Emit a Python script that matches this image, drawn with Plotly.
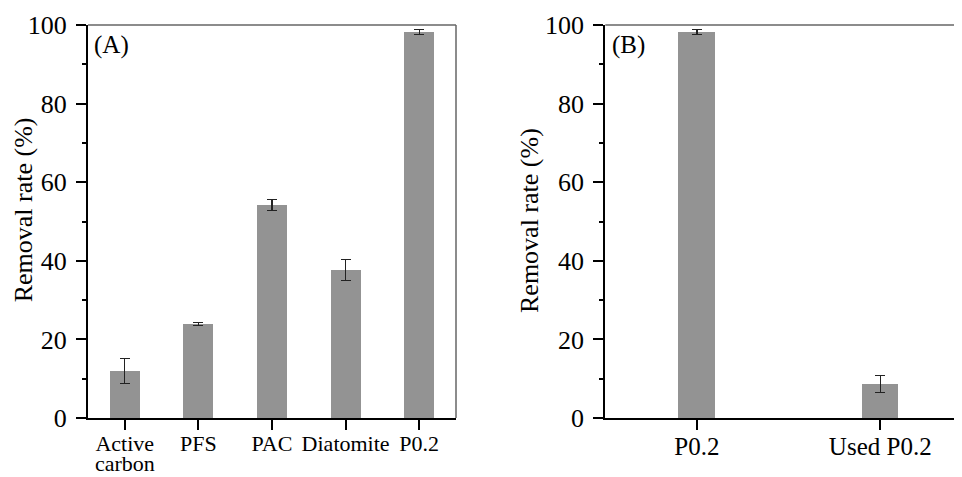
import plotly.graph_objects as go

# Data
cats_a = ["Active", "PFS", "PAC", "Diatomite", "P0.2"]
cat_a_second_line = "carbon"
vals_a = [12.0, 23.9, 54.2, 37.7, 98.2]
err_a = [3.2, 0.4, 1.3, 2.7, 0.6]

cats_b = ["P0.2", "Used P0.2"]
vals_b = [98.2, 8.6]
err_b = [0.6, 2.2]

y_ticks = [0, 20, 40, 60, 80, 100]
y_title = "Removal rate (%)"

FONT = "Liberation Serif, Times New Roman, serif"
BAR = "#939393"

# page body has an 8px margin, so the figure is offset by (8, 8)
OFF = 8
W, H = 962 - OFF, 477 - OFF


def px_x(p):
    return (p - OFF) / W


def px_y(p):
    return 1 - (p - OFF) / H


fig = go.Figure()
fig.add_trace(go.Bar(
    x=list(range(len(cats_a))), y=vals_a, width=0.41, marker=dict(color=BAR, line=dict(width=0)),
    error_y=dict(type="data", array=err_a, color="#222222", thickness=1.2, width=5),
    xaxis="x", yaxis="y", showlegend=False))
fig.add_trace(go.Bar(
    x=list(range(len(cats_b))), y=vals_b, width=0.2, marker=dict(color=BAR, line=dict(width=0)),
    error_y=dict(type="data", array=err_b, color="#222222", thickness=1.2, width=5),
    xaxis="x2", yaxis="y2", showlegend=False))

ydom = [px_y(418), px_y(25)]
yax = dict(range=[0, 100], tickvals=y_ticks, ticks="outside", ticklen=10, tickwidth=2,
           tickcolor="black", showline=True, linecolor="black", linewidth=2,
           showgrid=False, zeroline=False, automargin=False, domain=ydom,
           ticklabelstandoff=4,
           minor=dict(dtick=10, ticks="outside", ticklen=4, tickwidth=2, tickcolor="black"),
           tickfont=dict(family=FONT, size=26, color="black"))

xa = dict(range=[-0.5, 4.5], tickvals=list(range(len(cats_a))), ticktext=cats_a,
          ticks="outside", ticklen=10, tickwidth=2, tickcolor="black", automargin=False,
          showline=True, linecolor="black", linewidth=2, showgrid=False, zeroline=False,
          ticklabelstandoff=-5,
          tickfont=dict(family=FONT, size=22, color="black"), domain=[px_x(88), px_x(456)], anchor="y")
xb = dict(range=[-0.5, 1.446], tickvals=list(range(len(cats_b))), ticktext=cats_b,
          ticks="outside", ticklen=10, tickwidth=2, tickcolor="black", automargin=False,
          showline=True, linecolor="black", linewidth=2, showgrid=False, zeroline=False,
          ticklabelstandoff=-5,
          tickfont=dict(family=FONT, size=25, color="black"), domain=[px_x(605.3), 1.0], anchor="y2")

fig.update_layout(
    width=W, height=H, margin=dict(l=0, r=0, t=0, b=0, autoexpand=False),
    paper_bgcolor="white", plot_bgcolor="white",
    xaxis=xa, xaxis2=xb,
    yaxis=dict(yax, anchor="x"),
    yaxis2=dict(yax, anchor="x2"),
    bargap=0,
    shapes=[
        dict(type="line", xref="x domain", yref="y domain", x0=0, x1=1, y0=1, y1=1,
             line=dict(color="#666666", width=1.5)),
        dict(type="line", xref="x domain", yref="y domain", x0=1, x1=1, y0=0, y1=1,
             line=dict(color="#666666", width=1.5)),
        dict(type="line", xref="x2 domain", yref="y2 domain", x0=0, x1=1, y0=1, y1=1,
             line=dict(color="#666666", width=1.5)),
    ],
    annotations=[
        dict(text=cat_a_second_line, xref="x", yref="paper", x=0, y=px_y(463),
             xanchor="center", yanchor="middle", showarrow=False,
             font=dict(family=FONT, size=22, color="black")),
        dict(text=y_title, xref="paper", yref="paper", x=px_x(23.3), y=px_y(210), textangle=-90,
             xanchor="center", yanchor="middle", showarrow=False,
             font=dict(family=FONT, size=26, color="black")),
        dict(text=y_title, xref="paper", yref="paper", x=px_x(529), y=px_y(221), textangle=-90,
             xanchor="center", yanchor="middle", showarrow=False,
             font=dict(family=FONT, size=26, color="black")),
        dict(text="(A)", xref="x domain", yref="y domain", x=0.012, y=0.99, xanchor="left",
             yanchor="top", showarrow=False, font=dict(family=FONT, size=25, color="black")),
        dict(text="(B)", xref="x2 domain", yref="y2 domain", x=0.012, y=0.99, xanchor="left",
             yanchor="top", showarrow=False, font=dict(family=FONT, size=25, color="black")),
    ],
)

fig.write_html("out.html")
